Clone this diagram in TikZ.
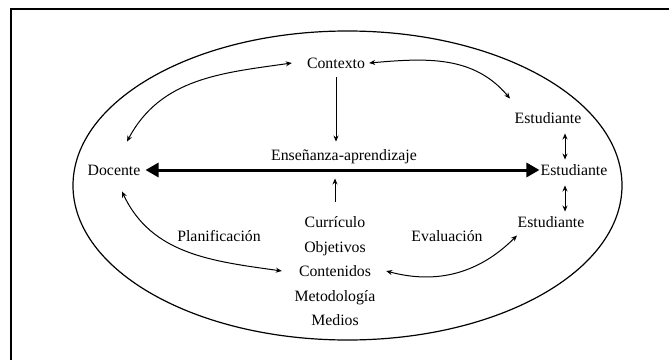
\documentclass[tikz,border=0pt]{standalone}
\usepackage{fontspec}
\setmainfont{Liberation Serif}
\usetikzlibrary{arrows.meta}

\begin{document}
\begin{tikzpicture}[x=1pt,y=1pt,
  lbl/.style={inner sep=0pt, text height=10.5pt, text depth=0pt,
              font=\fontsize{15.8}{19}\selectfont},
  link/.style={line width=1pt, {Stealth[length=6pt,width=5pt]}-{Stealth[length=6pt,width=5pt]}},
  onearrow/.style={line width=1pt, -{Stealth[length=6pt,width=5pt]}},
  bigarrow/.style={line width=3pt, {Triangle[length=13pt,width=14pt]}-{Triangle[length=13pt,width=14pt]}}]

 \useasboundingbox (0,0) rectangle (669,360);

 \draw[line width=1.6pt] (669,351) -- (11,351) -- (11,0);
 \draw[line width=1.2pt] (347.5,174.5) ellipse [x radius=274.5, y radius=154.5];

 \node[lbl] (contexto)  at (336,297) {Contexto};
 \node[lbl] (ensenanza) at (344,205) {Enseñanza-aprendizaje};
 \node[lbl] (docente)   at (114,190) {Docente};
 \node[lbl] (est1)      at (548,242) {Estudiante};
 \node[lbl] (est2)      at (574,190) {Estudiante};
 \node[lbl] (est3)      at (551,138) {Estudiante};
 \node[lbl] (plan)      at (219,124) {Planificación};
 \node[lbl] (eval)      at (447,124) {Evaluación};

 \foreach \nm/\txt/\yy in {curriculo/Currículo/138, objetivos/Objetivos/113,
     contenidos/Contenidos/89, metodologia/Metodología/64, medios/Medios/40}
 {
    \node[lbl] (\nm) at (335,\yy) {\txt};
 }

 \draw[bigarrow] ([xshift=5pt]docente.east) -- ([xshift=-1pt]est2.west);

 \draw[onearrow] ([yshift=-9pt]contexto.south) -- ([yshift=8pt]contexto.south |- ensenanza.north);
 \draw[onearrow] ([yshift=15pt]curriculo.north) -- ([yshift=-18pt]curriculo.north |- ensenanza.south);

 \draw[link] ([shift={(13pt,23pt)}]docente.north) to[out=62,in=188] ([xshift=-15pt]contexto.west);
 \draw[link] ([xshift=4pt]contexto.east) to[out=5,in=130] ([shift={(-38pt,14pt)}]est1.north);

 \draw[link] ([xshift=17pt,yshift=-10pt]est1.south) -- ([xshift=-9pt,yshift=5pt]est2.north);
 \draw[link] ([xshift=-9pt,yshift=-10pt]est2.south) -- ([xshift=14pt,yshift=5pt]est3.north);

 \draw[link] ([shift={(8pt,-16pt)}]docente.south) to[out=-65,in=172] ([xshift=-17pt]contenidos.west);
 \draw[link] ([xshift=15pt]contenidos.east) to[out=-15,in=225] ([shift={(-34pt,-8pt)}]est3.south);

\end{tikzpicture}
\end{document}
